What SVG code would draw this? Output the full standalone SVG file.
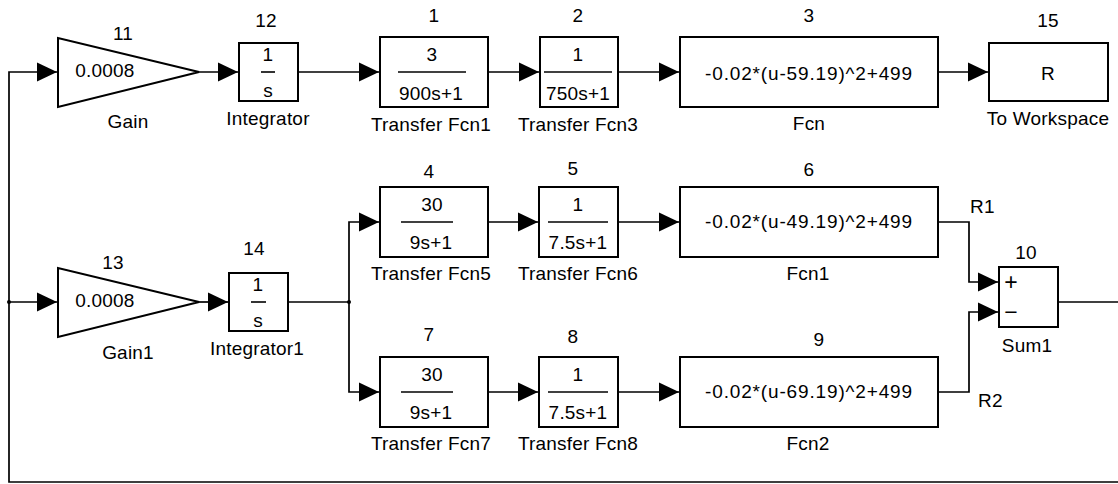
<svg xmlns="http://www.w3.org/2000/svg" width="1118" height="484" viewBox="0 0 1118 484">
<style>
.blk{fill:#fff;stroke:#000;stroke-width:2}
.ln{fill:none;stroke:#000;stroke-width:1.7}
.fr{stroke:#000;stroke-width:1.6}
text{font-family:"Liberation Sans",Arial,sans-serif;font-size:19px;fill:#000;letter-spacing:0.2px}
.m{text-anchor:middle}
.f{letter-spacing:0.85px}
.sg{font-size:23px}
</style>
<defs>
<marker id="ah" markerUnits="userSpaceOnUse" markerWidth="20" markerHeight="19" viewBox="0 0 20 19" refX="20" refY="9.5" orient="auto" overflow="visible">
<path d="M0,0 L20,9.5 L0,19 z" fill="#000"/>
</marker>
</defs>
<rect width="1118" height="484" fill="#fff"/>

<g id="connectors">
<path class="ln" d="M1120,482 H9 V72 H57" marker-end="url(#ah)"/>
<path class="ln" d="M9,302 H57" marker-end="url(#ah)"/>
<circle cx="9" cy="302" r="2" fill="#000"/>
<path class="ln" d="M199,72 H238" marker-end="url(#ah)"/>
<path class="ln" d="M298,72 H379" marker-end="url(#ah)"/>
<path class="ln" d="M488,72 H539" marker-end="url(#ah)"/>
<path class="ln" d="M618,72 H679" marker-end="url(#ah)"/>
<path class="ln" d="M938,72 H988" marker-end="url(#ah)"/>
<path class="ln" d="M199,302 H228" marker-end="url(#ah)"/>
<path class="ln" d="M288,302 H349"/>
<circle cx="349" cy="302" r="2" fill="#000"/>
<path class="ln" d="M349,302 V222 H379" marker-end="url(#ah)"/>
<path class="ln" d="M349,302 V392 H379" marker-end="url(#ah)"/>
<path class="ln" d="M488,222 H538" marker-end="url(#ah)"/>
<path class="ln" d="M618,222 H679" marker-end="url(#ah)"/>
<path class="ln" d="M488,392 H538" marker-end="url(#ah)"/>
<path class="ln" d="M618,392 H679" marker-end="url(#ah)"/>
<path class="ln" d="M938,222 H969 V282 H998" marker-end="url(#ah)"/>
<path class="ln" d="M938,392 H969 V312 H998" marker-end="url(#ah)"/>
<path class="ln" d="M1058,302 H1120"/>
<text x="970" y="213">R1</text>
<text x="978" y="407">R2</text>
</g>

<g id="gain">
<polygon class="blk" points="58,38 58,107 199,72"/>
<text class="m" x="123" y="40">11</text>
<text class="m" x="105" y="77">0.0008</text>
<text class="m" x="128" y="128">Gain</text>
</g>
<g id="integrator">
<rect class="blk" x="239" y="43" width="59" height="58"/>
<text class="m" x="266" y="27">12</text>
<text class="m" x="268" y="61">1</text>
<line class="fr" x1="261" y1="72" x2="275" y2="72"/>
<text class="m" x="268" y="97">s</text>
<text class="m" x="268" y="125">Integrator</text>
</g>
<g id="tf1">
<rect class="blk" x="380" y="37" width="108" height="70"/>
<text class="m" x="434" y="22">1</text>
<text class="m" x="432" y="61">3</text>
<line class="fr" x1="398" y1="72" x2="466" y2="72"/>
<text class="m" x="431" y="100">900s+1</text>
<text class="m" x="431" y="131">Transfer Fcn1</text>
</g>
<g id="tf3">
<rect class="blk" x="540" y="37" width="78" height="70"/>
<text class="m" x="578" y="22">2</text>
<text class="m" x="578" y="61">1</text>
<line class="fr" x1="544" y1="72" x2="612" y2="72"/>
<text class="m" x="578" y="100">750s+1</text>
<text class="m" x="578" y="131">Transfer Fcn3</text>
</g>
<g id="fcn">
<rect class="blk" x="680" y="37" width="258" height="70"/>
<text class="m" x="809" y="22">3</text>
<text class="m f" x="809" y="80">-0.02*(u-59.19)^2+499</text>
<text class="m" x="809" y="130">Fcn</text>
</g>
<g id="toworkspace">
<rect class="blk" x="989" y="43" width="119" height="58"/>
<text class="m" x="1048" y="27">15</text>
<text class="m" x="1048" y="80">R</text>
<text class="m" x="1048" y="125">To Workspace</text>
</g>

<g id="gain1">
<polygon class="blk" points="58,268 58,337 199,302"/>
<text class="m" x="113" y="269">13</text>
<text class="m" x="105" y="307">0.0008</text>
<text class="m" x="128" y="359">Gain1</text>
</g>
<g id="integrator1">
<rect class="blk" x="229" y="273" width="59" height="58"/>
<text class="m" x="254" y="255">14</text>
<text class="m" x="258" y="291">1</text>
<line class="fr" x1="251" y1="302" x2="266" y2="302"/>
<text class="m" x="258" y="327">s</text>
<text class="m" x="257" y="355">Integrator1</text>
</g>

<g id="tf5">
<rect class="blk" x="380" y="187" width="108" height="70"/>
<text class="m" x="429" y="178">4</text>
<text class="m" x="432" y="211">30</text>
<line class="fr" x1="401" y1="222" x2="453" y2="222"/>
<text class="m" x="431" y="249">9s+1</text>
<text class="m" x="431" y="280">Transfer Fcn5</text>
</g>
<g id="tf6">
<rect class="blk" x="539" y="187" width="79" height="70"/>
<text class="m" x="573" y="175">5</text>
<text class="m" x="578" y="211">1</text>
<line class="fr" x1="548" y1="222" x2="608" y2="222"/>
<text class="m" x="578" y="249">7.5s+1</text>
<text class="m" x="578" y="280">Transfer Fcn6</text>
</g>
<g id="fcn1">
<rect class="blk" x="680" y="187" width="258" height="70"/>
<text class="m" x="809" y="176">6</text>
<text class="m f" x="809" y="228">-0.02*(u-49.19)^2+499</text>
<text class="m" x="808" y="280">Fcn1</text>
</g>

<g id="tf7">
<rect class="blk" x="380" y="357" width="108" height="70"/>
<text class="m" x="429" y="341">7</text>
<text class="m" x="432" y="381">30</text>
<line class="fr" x1="401" y1="392" x2="453" y2="392"/>
<text class="m" x="431" y="419">9s+1</text>
<text class="m" x="431" y="450">Transfer Fcn7</text>
</g>
<g id="tf8">
<rect class="blk" x="539" y="357" width="79" height="70"/>
<text class="m" x="573" y="343">8</text>
<text class="m" x="578" y="381">1</text>
<line class="fr" x1="548" y1="392" x2="608" y2="392"/>
<text class="m" x="578" y="419">7.5s+1</text>
<text class="m" x="578" y="450">Transfer Fcn8</text>
</g>
<g id="fcn2">
<rect class="blk" x="680" y="357" width="258" height="70"/>
<text class="m" x="819" y="346">9</text>
<text class="m f" x="809" y="398">-0.02*(u-69.19)^2+499</text>
<text class="m" x="808" y="450">Fcn2</text>
</g>

<g id="sum1">
<rect class="blk" x="999" y="267" width="59" height="60"/>
<text class="m" x="1026" y="259">10</text>
<text class="m sg" x="1011" y="290">+</text>
<text class="m sg" x="1011" y="320">−</text>
<text class="m" x="1027" y="352">Sum1</text>
</g>
</svg>
